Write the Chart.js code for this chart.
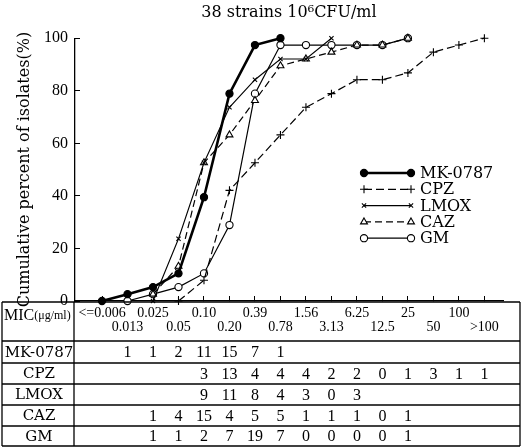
<!DOCTYPE html>
<html><head><meta charset="utf-8">
<script src="https://cdn.jsdelivr.net/npm/chart.js@4/dist/chart.umd.min.js"></script>
<style>html,body{margin:0;padding:0;background:#fff}#wrap{position:relative;width:531px;height:447px}</style>
</head><body><div id="wrap"><canvas id="c"></canvas></div>
<script>
// ---- data ----
const categories = ['<=0.006','0.013','0.025','0.05','0.10','0.20','0.39','0.78','1.56','3.13','6.25','12.5','25','50','100','>100'];
const yTicks = [0, 20, 40, 60, 80, 100];
const seriesNames = ['MK-0787', 'CPZ', 'LMOX', 'CAZ', 'GM'];
// cumulative percent of isolates (plotted)
const mkCum   = [0, 2.6, 5.3, 10.5, 39.5, 78.9, 97.4, 100, null, null, null, null, null, null, null, null];
const cpzCum  = [null, null, null, 0, 7.9, 42.1, 52.6, 63.2, 73.7, 78.9, 84.2, 84.2, 86.8, 94.7, 97.4, 100];
const lmoxCum = [null, null, 0, 23.7, 52.6, 73.7, 84.2, 92.1, 92.1, 100, null, null, null, null, null, null];
const cazCum  = [null, null, 2.6, 13.2, 52.6, 63.2, 76.3, 89.5, 92.1, 94.7, 97.4, 97.4, 100, null, null, null];
const gmCum   = [null, 0, 2.6, 5.3, 10.5, 28.9, 78.9, 97.4, 97.4, 97.4, 97.4, 97.4, 100, null, null, null];
// number of strains per MIC (table)
const mkCount   = [null, 1, 1, 2, 11, 15, 7, 1, null, null, null, null, null, null, null, null];
const cpzCount  = [null, null, null, null, 3, 13, 4, 4, 4, 2, 2, 0, 1, 3, 1, 1];
const lmoxCount = [null, null, null, null, 9, 11, 8, 4, 3, 0, 3, null, null, null, null, null];
const cazCount  = [null, null, 1, 4, 15, 4, 5, 5, 1, 1, 1, 0, 1, null, null, null];
const gmCount   = [null, null, 1, 1, 2, 7, 19, 7, 0, 0, 0, 0, 1, null, null, null];
const chartTitle = '38 strains 10\u2076CFU/ml';
const yTitle = 'Cumulative percent of isolates(%)';

const cumSeries = [mkCum, cpzCum, lmoxCum, cazCum, gmCum];
const countSeries = [mkCount, cpzCount, lmoxCount, cazCount, gmCount];
const toPts = arr => arr.map((v, i) => v === null ? null : {x: i, y: v}).filter(p => p);

const styles = [
  {borderWidth: 2.6, borderDash: [], pointStyle: 'circle', pointRadius: 3.6, fill: '#000'},
  {borderWidth: 1.2, borderDash: [8, 4], pointStyle: 'cross', pointRadius: 4, fill: '#fff'},
  {borderWidth: 1.1, borderDash: [], pointStyle: 'crossRot', pointRadius: 3, fill: '#fff'},
  {borderWidth: 1.2, borderDash: [7, 4], pointStyle: 'triangle', pointRadius: 4, fill: '#fff'},
  {borderWidth: 1.2, borderDash: [], pointStyle: 'circle', pointRadius: 3.6, fill: '#fff'}
];

const datasets = seriesNames.map((name, k) => ({
  label: name,
  data: toPts(cumSeries[k]),
  borderColor: '#000',
  borderWidth: styles[k].borderWidth,
  borderDash: styles[k].borderDash,
  pointStyle: styles[k].pointStyle,
  pointRadius: styles[k].pointRadius,
  pointBackgroundColor: styles[k].fill,
  pointBorderColor: '#000',
  pointBorderWidth: 1.1,
  tension: 0,
  clip: false,
  fill: false
}));

const bgPlugin = {
  id: 'bg',
  beforeDraw(chart) {
    const c = chart.ctx;
    c.save(); c.fillStyle = '#fff'; c.fillRect(0, 0, chart.width, chart.height); c.restore();
  }
};

const legendPlugin = {
  id: 'innerLegend',
  afterDatasetsDraw(chart) {
    const c = chart.ctx;
    const x0 = 364, x1 = 411, tx = 420, y0 = 173, dy = 16.3;
    c.save();
    chart.data.datasets.forEach((ds, k) => {
      const y = y0 + k * dy;
      c.strokeStyle = '#000';
      c.lineWidth = ds.borderWidth;
      c.setLineDash(ds.borderDash || []);
      c.beginPath(); c.moveTo(x0, y); c.lineTo(x1, y); c.stroke();
      c.setLineDash([]);
      [x0, x1].forEach(px => {
        c.fillStyle = ds.pointBackgroundColor;
        c.strokeStyle = '#000';
        c.lineWidth = ds.pointBorderWidth;
        Chart.helpers.drawPoint(c, {pointStyle: ds.pointStyle, radius: ds.pointRadius, rotation: 0, borderWidth: ds.pointBorderWidth}, px, y);
      });
      c.fillStyle = '#000';
      c.font = '16px "DejaVu Serif"';
      c.textBaseline = 'middle';
      c.textAlign = 'left';
      c.fillText(ds.label, tx, y + 1);
    });
    c.restore();
  }
};

const tablePlugin = {
  id: 'micTable',
  afterDraw(chart) {
    const c = chart.ctx, xs = chart.scales.x, ca = chart.chartArea;
    const top = ca.bottom + 1;
    const L = 2, R = 520, colX = 74;
    const lines = [top, top + 39, top + 61, top + 82, top + 103, top + 124, 446];
    c.save();
    c.strokeStyle = '#000';
    c.lineWidth = 1.3;
    lines.forEach(y => { c.beginPath(); c.moveTo(L, y); c.lineTo(R, y); c.stroke(); });
    [L, colX, R].forEach(x => { c.beginPath(); c.moveTo(x, top); c.lineTo(x, 446); c.stroke(); });
    c.fillStyle = '#000';
    c.textBaseline = 'middle';
    // MIC header label
    c.textAlign = 'left';
    c.font = '16px "Liberation Serif"';
    c.fillText('MIC', 4, top + 14);
    const w = c.measureText('MIC').width;
    c.font = '12px "Liberation Serif"';
    c.fillText('(\u03bcg/ml)', 4 + w, top + 14);
    // rows
    seriesNames.forEach((name, k) => {
      const yc = (lines[k + 1] + lines[k + 2]) / 2 + 1;
      c.textAlign = 'center';
      c.font = '15px "DejaVu Serif"';
      c.fillText(name, (L + colX) / 2 + 1, yc);
      c.font = '16px "Liberation Serif"';
      countSeries[k].forEach((v, i) => {
        if (v === null) return;
        c.fillText(String(v), xs.getPixelForValue(i), yc);
      });
    });
    c.restore();
  }
};

new Chart(document.getElementById('c'), {
  type: 'line',
  data: {datasets},
  plugins: [bgPlugin, legendPlugin, tablePlugin],
  options: {
    responsive: true,
    maintainAspectRatio: false,
    animation: false,
    layout: {padding: {left: 0, right: 28, top: 0, bottom: 0}},
    plugins: {
      legend: {display: false},
      tooltip: {enabled: false},
      title: {
        display: true, text: chartTitle, fullSize: false, color: '#000',
        font: {family: 'DejaVu Serif', size: 16, weight: 'normal', lineHeight: 1.2},
        padding: {top: 3, bottom: 16}
      }
    },
    scales: {
      x: {
        type: 'linear', position: 'bottom', min: -1.06, max: 15.73,
        afterBuildTicks: s => { s.ticks = categories.map((c, i) => ({value: i})); },
        afterFit: s => { s.height = 146; },
        grid: {display: true, drawOnChartArea: false, drawTicks: true, tickLength: -5, color: '#000', lineWidth: 1},
        border: {display: true, color: '#000', width: 1.3},
        ticks: {
          autoSkip: false, maxRotation: 0, minRotation: 0, padding: 10, color: '#000',
          font: {family: 'Liberation Serif', size: 14, lineHeight: 1.0},
          callback: v => (v % 2 === 0) ? [categories[v], ''] : ['', categories[v]]
        }
      },
      y: {
        min: 0, max: 100,
        afterBuildTicks: s => { s.ticks = yTicks.map(v => ({value: v})); },
        afterFit: s => { s.width = 75; },
        grid: {display: true, drawOnChartArea: false, drawTicks: true, tickLength: -5, color: '#000', lineWidth: 1},
        border: {display: true, color: '#000', width: 1.3},
        ticks: {padding: 12, color: '#000', font: {family: 'Liberation Serif', size: 16}},
        title: {
          display: true, text: yTitle, color: '#000',
          font: {family: 'DejaVu Serif', size: 16, lineHeight: 1.2},
          padding: {top: 15, bottom: 0}
        }
      }
    }
  }
});
</script>
</body></html>
